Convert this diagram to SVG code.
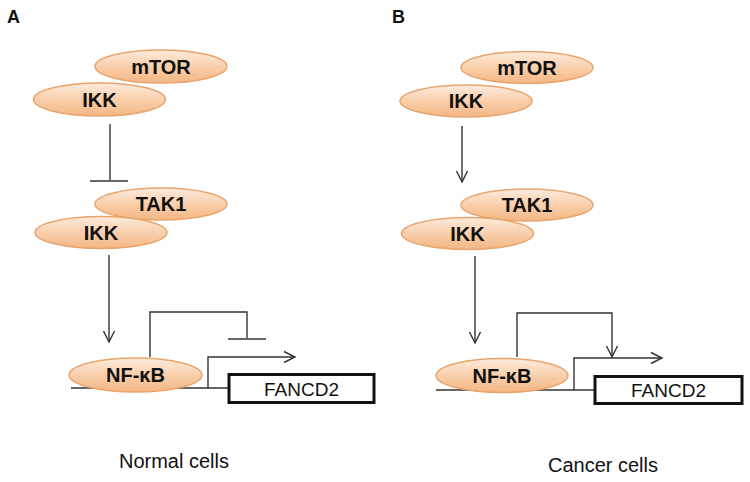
<svg xmlns="http://www.w3.org/2000/svg" width="750" height="482" viewBox="0 0 750 482">
<defs>
<linearGradient id="peach" x1="0" y1="0" x2="0" y2="1">
<stop offset="0" stop-color="#FDEBDD"/>
<stop offset="0.5" stop-color="#F9CFAB"/>
<stop offset="1" stop-color="#F3B684"/>
</linearGradient>
<marker id="arr" markerWidth="14" markerHeight="14" refX="12" refY="7" orient="auto" markerUnits="userSpaceOnUse">
<path d="M1,1.5 L12,7 L1,12.5" fill="none" stroke="#333" stroke-width="1.4"/>
</marker>
</defs>
<style>
.node ellipse{fill:url(#peach);stroke:#E8A56E;stroke-width:1.5}
.node text{font-family:"Liberation Sans",Arial,sans-serif;font-weight:bold;font-size:20px;fill:#111;text-anchor:middle}
.ln{fill:none;stroke:#333;stroke-width:1.4}
.bar{stroke:#666;stroke-width:2}
.box rect{fill:#fff;stroke:#111;stroke-width:3}
.box text{font-family:"Liberation Sans",Arial,sans-serif;font-size:19px;fill:#111;text-anchor:middle}
.lbl{font-family:"Liberation Sans",Arial,sans-serif;font-weight:bold;font-size:18px;fill:#111}
.cap{font-family:"Liberation Sans",Arial,sans-serif;font-size:20px;fill:#111;text-anchor:middle}
</style>
<rect width="750" height="482" fill="#fff"/>
<text class="lbl" x="7" y="23">A</text>
<text class="lbl" x="392" y="23">B</text>
<g id="connectors">
<line class="ln" x1="110" y1="124" x2="110" y2="181"/>
<line class="bar" x1="90" y1="181" x2="128" y2="181"/>
<line class="ln" x1="109" y1="255" x2="109" y2="342" marker-end="url(#arr)"/>
<line class="ln" x1="71" y1="388" x2="229" y2="388"/>
<path class="ln" d="M150,357 V312 H247 V339"/>
<line class="bar" x1="228" y1="339" x2="266" y2="339"/>
<path class="ln" d="M208,388 V357 H295" marker-end="url(#arr)"/>
<line class="ln" x1="462" y1="126" x2="462" y2="182" marker-end="url(#arr)"/>
<line class="ln" x1="475" y1="256" x2="475" y2="343" marker-end="url(#arr)"/>
<line class="ln" x1="436" y1="390" x2="595" y2="390"/>
<path class="ln" d="M517,357 V313 H612 V357" marker-end="url(#arr)"/>
<path class="ln" d="M574,390 V358 H662" marker-end="url(#arr)"/>
</g>
<g id="a-mtor" class="node"><ellipse cx="161" cy="66.5" rx="66" ry="16.5"/><text x="161" y="74">mTOR</text></g>
<g id="a-ikk1" class="node"><ellipse cx="99.5" cy="99.5" rx="66" ry="16.5"/><text x="99.5" y="107">IKK</text></g>
<g id="a-tak1" class="node"><ellipse cx="161" cy="204" rx="66" ry="16"/><text x="161" y="211">TAK1</text></g>
<g id="a-ikk2" class="node"><ellipse cx="101" cy="232.5" rx="66" ry="16"/><text x="101" y="240">IKK</text></g>
<g id="a-nfkb" class="node"><ellipse cx="135.5" cy="375" rx="66.5" ry="17"/><text x="135.5" y="382">NF-κB</text></g>
<g id="a-fancd2" class="box"><rect x="229" y="374.5" width="145" height="28"/><text x="301.5" y="396">FANCD2</text></g>
<g id="b-mtor" class="node"><ellipse cx="527" cy="67.5" rx="66" ry="16"/><text x="527" y="75">mTOR</text></g>
<g id="b-ikk1" class="node"><ellipse cx="466" cy="101" rx="66" ry="16"/><text x="466" y="108">IKK</text></g>
<g id="b-tak1" class="node"><ellipse cx="527" cy="205" rx="66" ry="16"/><text x="527" y="212">TAK1</text></g>
<g id="b-ikk2" class="node"><ellipse cx="467.5" cy="233.5" rx="66" ry="16"/><text x="467.5" y="241">IKK</text></g>
<g id="b-nfkb" class="node"><ellipse cx="502" cy="375.5" rx="66" ry="17"/><text x="502" y="383">NF-κB</text></g>
<g id="b-fancd2" class="box"><rect x="595" y="376.5" width="147" height="27"/><text x="668.5" y="397">FANCD2</text></g>
<text class="cap" x="174" y="468">Normal cells</text>
<text class="cap" x="603" y="472">Cancer cells</text>
</svg>
